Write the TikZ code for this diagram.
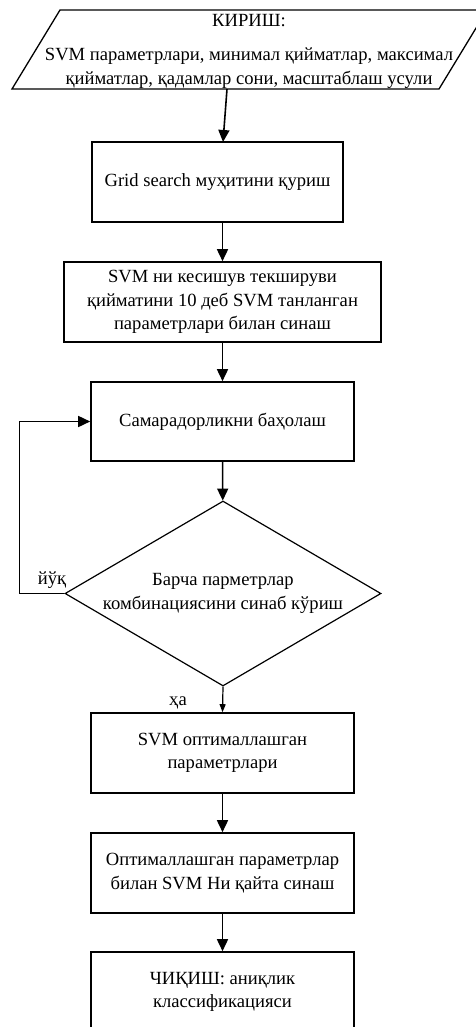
\documentclass[tikz,border=0pt]{standalone}
\usepackage{fontspec}
\setmainfont{Liberation Serif}
\usetikzlibrary{shapes.geometric,arrows.meta}
\begin{document}
\begin{tikzpicture}[x=1pt,y=-1pt,
  every node/.style={font=\fontsize{18.6}{23.5}\selectfont},
  procbox/.style={draw,line width=1.6pt,minimum height=80pt,inner sep=0pt,align=center},
  arr/.style={line width=1.6pt,-{Triangle[length=12pt,width=11pt]}},
  smallarr/.style={line width=1.2pt,-{Triangle[length=8pt,width=6pt]}},
  lbl/.style={inner sep=0pt}]
\useasboundingbox (0,0) rectangle (475,1027);
\fill[white] (0,0) rectangle (475,1027);
% input parallelogram
\draw[line width=1.3pt] (12,89) -- (60,10) -- (487,10) -- (439,89) -- cycle;
\node[align=center,inner sep=0pt] (inp) at (249,51) {КИРИШ:\\[11pt]SVM параметрлари, минимал қийматлар, максимал\\қийматлар, қадамлар сони, масштаблаш усули};
\coordinate (inbot) at (227,89);
\coordinate (b1top) at (223,142);
% boxes
\node[procbox,minimum width=251pt] (b1) at (217.5,182) {Grid search муҳитини қуриш};
\node[procbox,minimum width=317pt] (b2) at (222.5,302) {SVM ни кесишув текшируви\\қийматини 10 деб SVM танланган\\параметрлари билан синаш};
\node[procbox,minimum width=263pt,minimum height=79pt] (b3) at (222.5,421.5) {Самарадорликни баҳолаш};
\node[draw,line width=1.2pt,shape=diamond,aspect=1.71,minimum width=316pt,minimum height=185pt,inner sep=0pt,align=center] (dia) at (223,593.5) {Барча парметрлар\\комбинациясини синаб кўриш};
\node[procbox,minimum width=263pt] (b4) at (222.5,753) {SVM оптималлашган\\параметрлари};
\node[procbox,minimum width=263pt] (b5) at (222.5,873) {Оптималлашган параметрлар\\билан SVM Ни қайта синаш};
\node[procbox,minimum width=263pt] (b6) at (222.5,992) {ЧИҚИШ: аниқлик\\классификацияси};
% labels
\node[lbl] (no) at (52,580) {йўқ};
\node[lbl] (yes) at (178,703) {ҳа};
% connectors
\draw[arr] (inbot) -- (b1top);
\draw[arr] (b1.south -| b2.north) -- (b2.north);
\draw[arr] (b2) -- (b3);
\draw[arr] (b3) -- (dia);
\draw[arr] (dia.west) -- ++(-45,0) |- (b3.west);
\draw[smallarr] (dia.south) -- (b4.north);
\draw[arr] (b4) -- (b5);
\draw[arr] (b5) -- (b6);
\end{tikzpicture}
\end{document}
